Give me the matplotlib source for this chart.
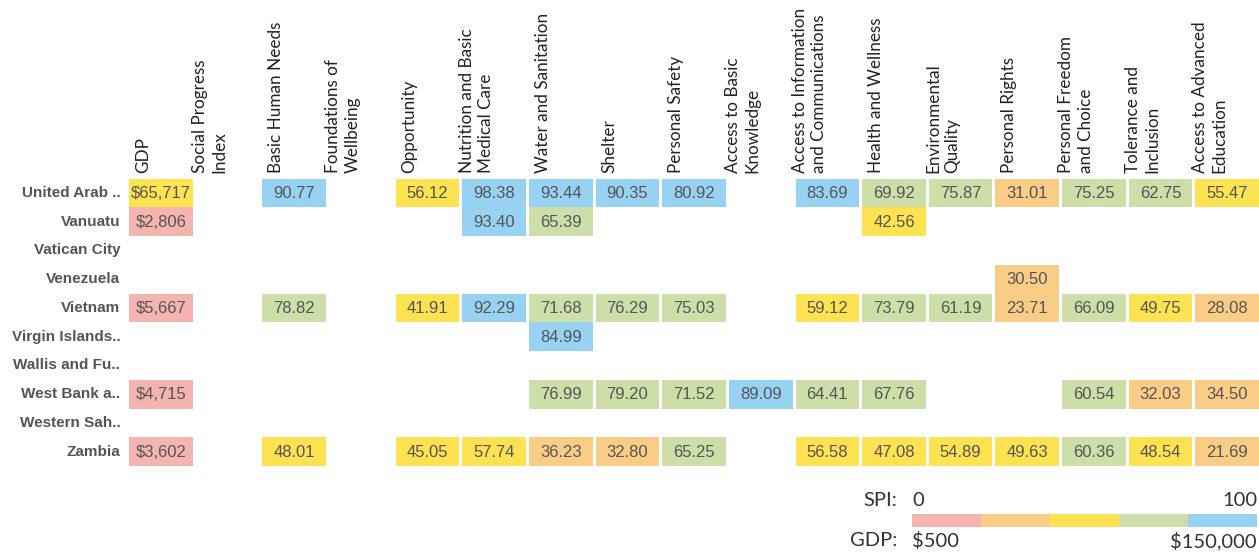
import matplotlib.pyplot as plt
import matplotlib.patches as mpatches
import numpy as np

nan = np.nan

columns = [
    "GDP",
    "Social Progress\nIndex",
    "Basic Human Needs",
    "Foundations of\nWellbeing",
    "Opportunity",
    "Nutrition and Basic\nMedical Care",
    "Water and Sanitation",
    "Shelter",
    "Personal Safety",
    "Access to Basic\nKnowledge",
    "Access to Information\nand Communications",
    "Health and Wellness",
    "Environmental\nQuality",
    "Personal Rights",
    "Personal Freedom\nand Choice",
    "Tolerance and\nInclusion",
    "Access to Advanced\nEducation",
]

countries = [
    "United Arab ..",
    "Vanuatu",
    "Vatican City",
    "Venezuela",
    "Vietnam",
    "Virgin Islands..",
    "Wallis and Fu..",
    "West Bank a..",
    "Western Sah..",
    "Zambia",
]

gdp = [65717, 2806, nan, nan, 5667, nan, nan, 4715, nan, 3602]

# SPI component scores, one list per country, columns 1..16
spi_uae = [nan, 90.77, nan, 56.12, 98.38, 93.44, 90.35, 80.92, nan, 83.69, 69.92, 75.87, 31.01, 75.25, 62.75, 55.47]
spi_vanuatu = [nan, nan, nan, nan, 93.40, 65.39, nan, nan, nan, nan, 42.56, nan, nan, nan, nan, nan]
spi_vatican = [nan] * 16
spi_venezuela = [nan, nan, nan, nan, nan, nan, nan, nan, nan, nan, nan, nan, 30.50, nan, nan, nan]
spi_vietnam = [nan, 78.82, nan, 41.91, 92.29, 71.68, 76.29, 75.03, nan, 59.12, 73.79, 61.19, 23.71, 66.09, 49.75, 28.08]
spi_virgin = [nan, nan, nan, nan, nan, 84.99, nan, nan, nan, nan, nan, nan, nan, nan, nan, nan]
spi_wallis = [nan] * 16
spi_westbank = [nan, nan, nan, nan, nan, 76.99, 79.20, 71.52, 89.09, 64.41, 67.76, nan, nan, 60.54, 32.03, 34.50]
spi_wsahara = [nan] * 16
spi_zambia = [nan, 48.01, nan, 45.05, 57.74, 36.23, 32.80, 65.25, nan, 56.58, 47.08, 54.89, 49.63, 60.36, 48.54, 21.69]

spi = [spi_uae, spi_vanuatu, spi_vatican, spi_venezuela, spi_vietnam,
       spi_virgin, spi_wallis, spi_westbank, spi_wsahara, spi_zambia]

palette = ["#F4B5B1", "#F9CD86", "#FDE352", "#CDDEA9", "#98D2F2"]
gdp_min, gdp_max = 500, 150000


def bin_color(frac):
    i = int(min(max(frac, 0), 0.9999) * len(palette))
    return palette[i]


cell_font = ["DejaVu Sans Condensed", "Liberation Sans Narrow", "Liberation Sans"]
label_font = ["Lato", "DejaVu Sans"]
text_gray = "#555555"

W, H = 1259, 556
fig = plt.figure(figsize=(W / 100, H / 100), dpi=100)

# table axes: 17 columns, 10 rows
x0, x1 = 129, 129 + 17 * 66.65
y0, y1 = 178.5, 178.5 + 10 * 28.75
ax = fig.add_axes([x0 / W, 1 - y1 / H, (x1 - x0) / W, (y1 - y0) / H])
ax.set_xlim(0, 17)
ax.set_ylim(10, 0)
ax.axis("off")

cw = 0.955
for r, name in enumerate(countries):
    ax.text(-0.13, r + 0.5, name, ha="right", va="center", fontsize=11,
            fontweight="bold", color=text_gray, family=cell_font)
    if not np.isnan(gdp[r]):
        frac = (gdp[r] - gdp_min) / (gdp_max - gdp_min)
        ax.add_patch(mpatches.Rectangle((0, r), cw, 1, facecolor=bin_color(frac),
                                        edgecolor="none", clip_on=False))
        ax.text(cw / 2, r + 0.52, f"${gdp[r]:,.0f}", ha="center", va="center",
                fontsize=12, color=text_gray, family=cell_font)
    for c, v in enumerate(spi[r]):
        if np.isnan(v):
            continue
        col = c + 1
        ax.add_patch(mpatches.Rectangle((col, r), cw, 1, facecolor=bin_color(v / 100),
                                        edgecolor="none", clip_on=False))
        ax.text(col + cw / 2, r + 0.52, f"{v:.2f}", ha="center", va="center",
                fontsize=12, color=text_gray, family=cell_font)

for c, label in enumerate(columns):
    ax.text(c + 0.21, -0.2, label, rotation=90, ha="center", va="bottom",
            fontsize=12.3, color="#222222", family=label_font,
            multialignment="left", linespacing=1.25, clip_on=False)

# legend bar
lx0, lx1 = 912, 1257
ly0, ly1 = 514, 527
lax = fig.add_axes([lx0 / W, 1 - ly1 / H, (lx1 - lx0) / W, (ly1 - ly0) / H])
lax.bar(np.arange(len(palette)), np.ones(len(palette)), width=1.0, color=palette,
        align="edge")
lax.set_xlim(0, len(palette))
lax.set_ylim(0, 1)
lax.axis("off")

leg_kw = dict(fontsize=14.5, color="#333333", family=label_font)
fig.text(897 / W, 1 - 500 / H, "SPI:", ha="right", va="center", **leg_kw)
fig.text(lx0 / W, 1 - 500 / H, "0", ha="left", va="center", **leg_kw)
fig.text(lx1 / W, 1 - 500 / H, "100", ha="right", va="center", **leg_kw)
fig.text(897 / W, 1 - 541 / H, "GDP:", ha="right", va="center", **leg_kw)
fig.text(lx0 / W, 1 - 541 / H, "$500", ha="left", va="center", **leg_kw)
fig.text(lx1 / W, 1 - 541 / H, "$150,000", ha="right", va="center", **leg_kw)

fig.savefig("out.png", dpi=100)
